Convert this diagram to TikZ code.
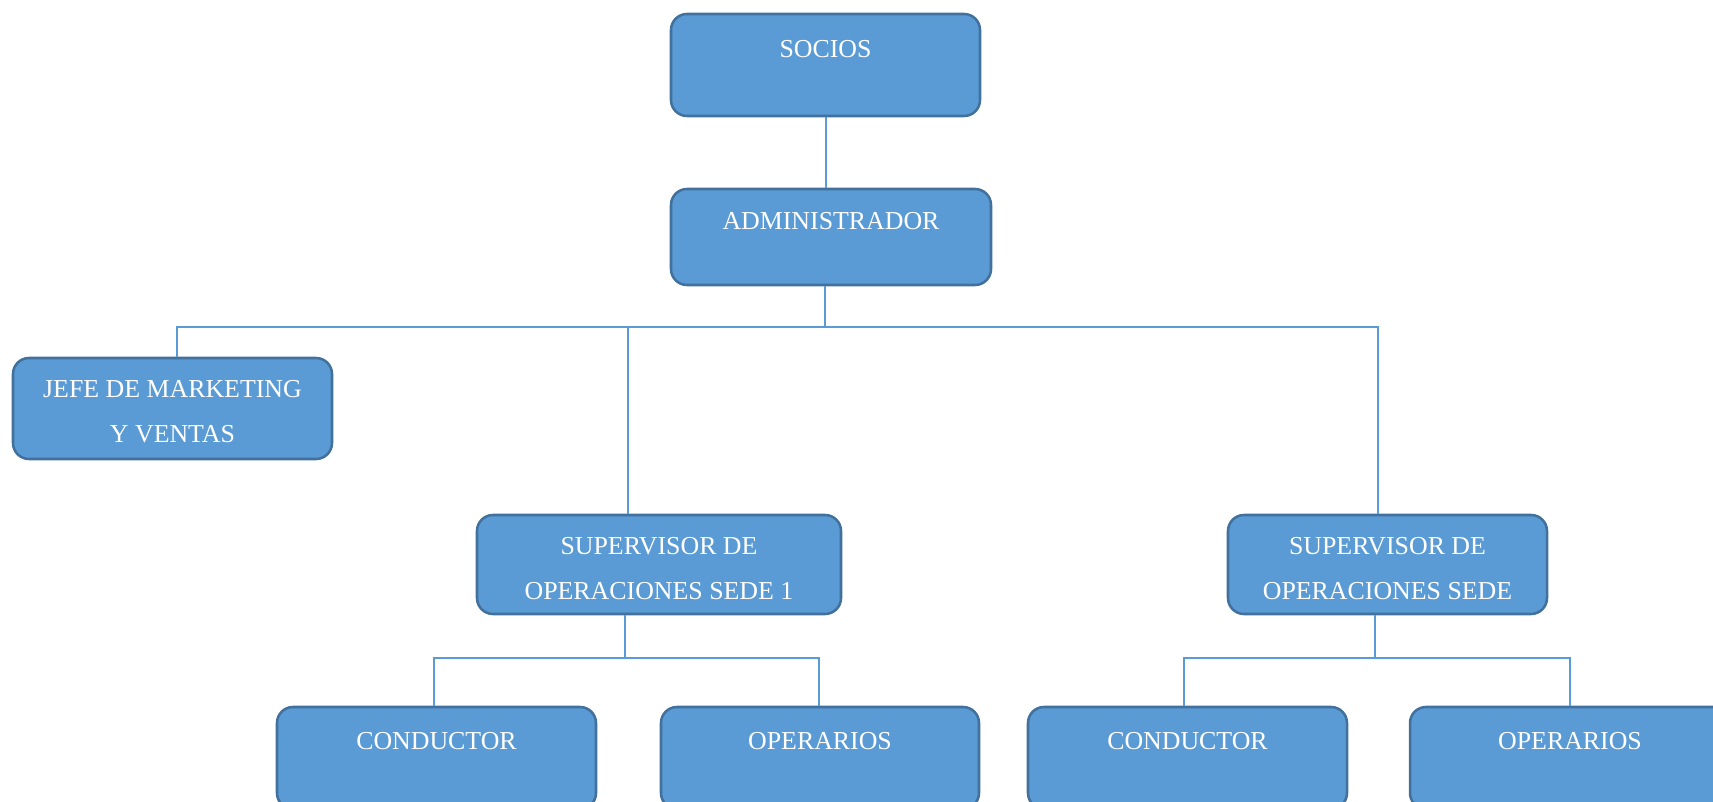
\documentclass[tikz,border=0pt]{standalone}
\usepackage{fontspec}
\setmainfont{Liberation Serif}
\definecolor{boxblue}{HTML}{5B9BD5}
\definecolor{boxedge}{HTML}{41719C}
\definecolor{linkblue}{HTML}{5B9BD5}
\tikzset{
  orgbox/.style 2 args={rectangle, rounded corners=12pt, fill=boxblue, draw=boxedge,
    line width=1.9pt, inner sep=0pt, minimum width=#1*0.75pt, minimum height=#2*0.75pt},
  lbl/.style={text=white, inner sep=0pt, anchor=base, font=\fontsize{19.4}{23}\selectfont},
  link/.style={draw=linkblue, line width=1.4pt},
}
\begin{document}
\begin{tikzpicture}[x=0.75pt, y=-0.75pt]
\clip (0,0) rectangle (1713,802);
\fill[white] (0,0) rectangle (1713,802);

% boxes
\node[orgbox={309}{102}] (socios) at (825.5,65) {};
\node[orgbox={320}{96}]  (admin)  at (831,237) {};
\node[orgbox={319}{101}] (jefe)   at (172.5,408.5) {};
\node[orgbox={364}{99}]  (sup1)   at (659,564.5) {};
\node[orgbox={319}{99}]  (sup2)   at (1387.5,564.5) {};
\node[orgbox={319}{102}] (cond1)  at (436.5,758) {};
\node[orgbox={318}{102}] (oper1)  at (820,758) {};
\node[orgbox={319}{102}] (cond2)  at (1187.5,758) {};
\node[orgbox={320}{102}] (oper2)  at (1570,758) {};

% labels, set near the top of each box
\path (socios.north) ++(0,45) node[lbl] (sociosT) {SOCIOS};
\path (admin.north)  ++(0,42) node[lbl] (adminT) {ADMINISTRADOR};
\path (jefe.north)   ++(0,41) node[lbl] (jefeA) {JEFE DE MARKETING};
\path (jefe.north)   ++(0,86) node[lbl] (jefeB) {Y VENTAS};
\path (sup1.north)   ++(0,41) node[lbl] (sup1A) {SUPERVISOR DE};
\path (sup1.north)   ++(0,86) node[lbl] (sup1B) {OPERACIONES SEDE 1};
\path (sup2.north)   ++(0,41) node[lbl] (sup2A) {SUPERVISOR DE};
\path (sup2.north)   ++(0,86) node[lbl] (sup2B) {OPERACIONES SEDE};
\path (cond1.north)  ++(0,44) node[lbl] (cond1T) {CONDUCTOR};
\path (oper1.north)  ++(0,44) node[lbl] (oper1T) {OPERARIOS};
\path (cond2.north)  ++(0,44) node[lbl] (cond2T) {CONDUCTOR};
\path (oper2.north)  ++(0,44) node[lbl] (oper2T) {OPERARIOS};

% attachment points
\path (socios.south) ++(0.5,0) coordinate (sd);
\path (admin.south) ++(-6,0) coordinate (ad);
\path (ad) ++(0,41) coordinate (bus);
\path (jefe.north) ++(4.5,0) coordinate (jn);
\path (sup1.north) ++(-31,0) coordinate (s1n);
\path (sup2.north) ++(-9.5,0) coordinate (s2n);
\path (sup1.south) ++(-34,0) coordinate (s1s);
\path (s1s) ++(0,43) coordinate (bus1);
\path (sup2.south) ++(-12.5,0) coordinate (s2s);
\path (s2s) ++(0,43) coordinate (bus2);
\path (cond1.north) ++(-2.5,0) coordinate (c1n);
\path (oper1.north) ++(-1,0) coordinate (o1n);
\path (cond2.north) ++(-3.5,0) coordinate (c2n);
\path (oper2.north) ++(0,0) coordinate (o2n);

% connectors
\draw[link] (sd) -- (sd |- admin.north);
\draw[link] (ad) -- (bus);
\draw[link] (bus) -| (jn);
\draw[link] (bus) -| (s1n);
\draw[link] (bus) -| (s2n);
\draw[link] (s1s) -- (bus1);
\draw[link] (bus1) -| (c1n);
\draw[link] (bus1) -| (o1n);
\draw[link] (s2s) -- (bus2);
\draw[link] (bus2) -| (c2n);
\draw[link] (bus2) -| (o2n);
\end{tikzpicture}
\end{document}
